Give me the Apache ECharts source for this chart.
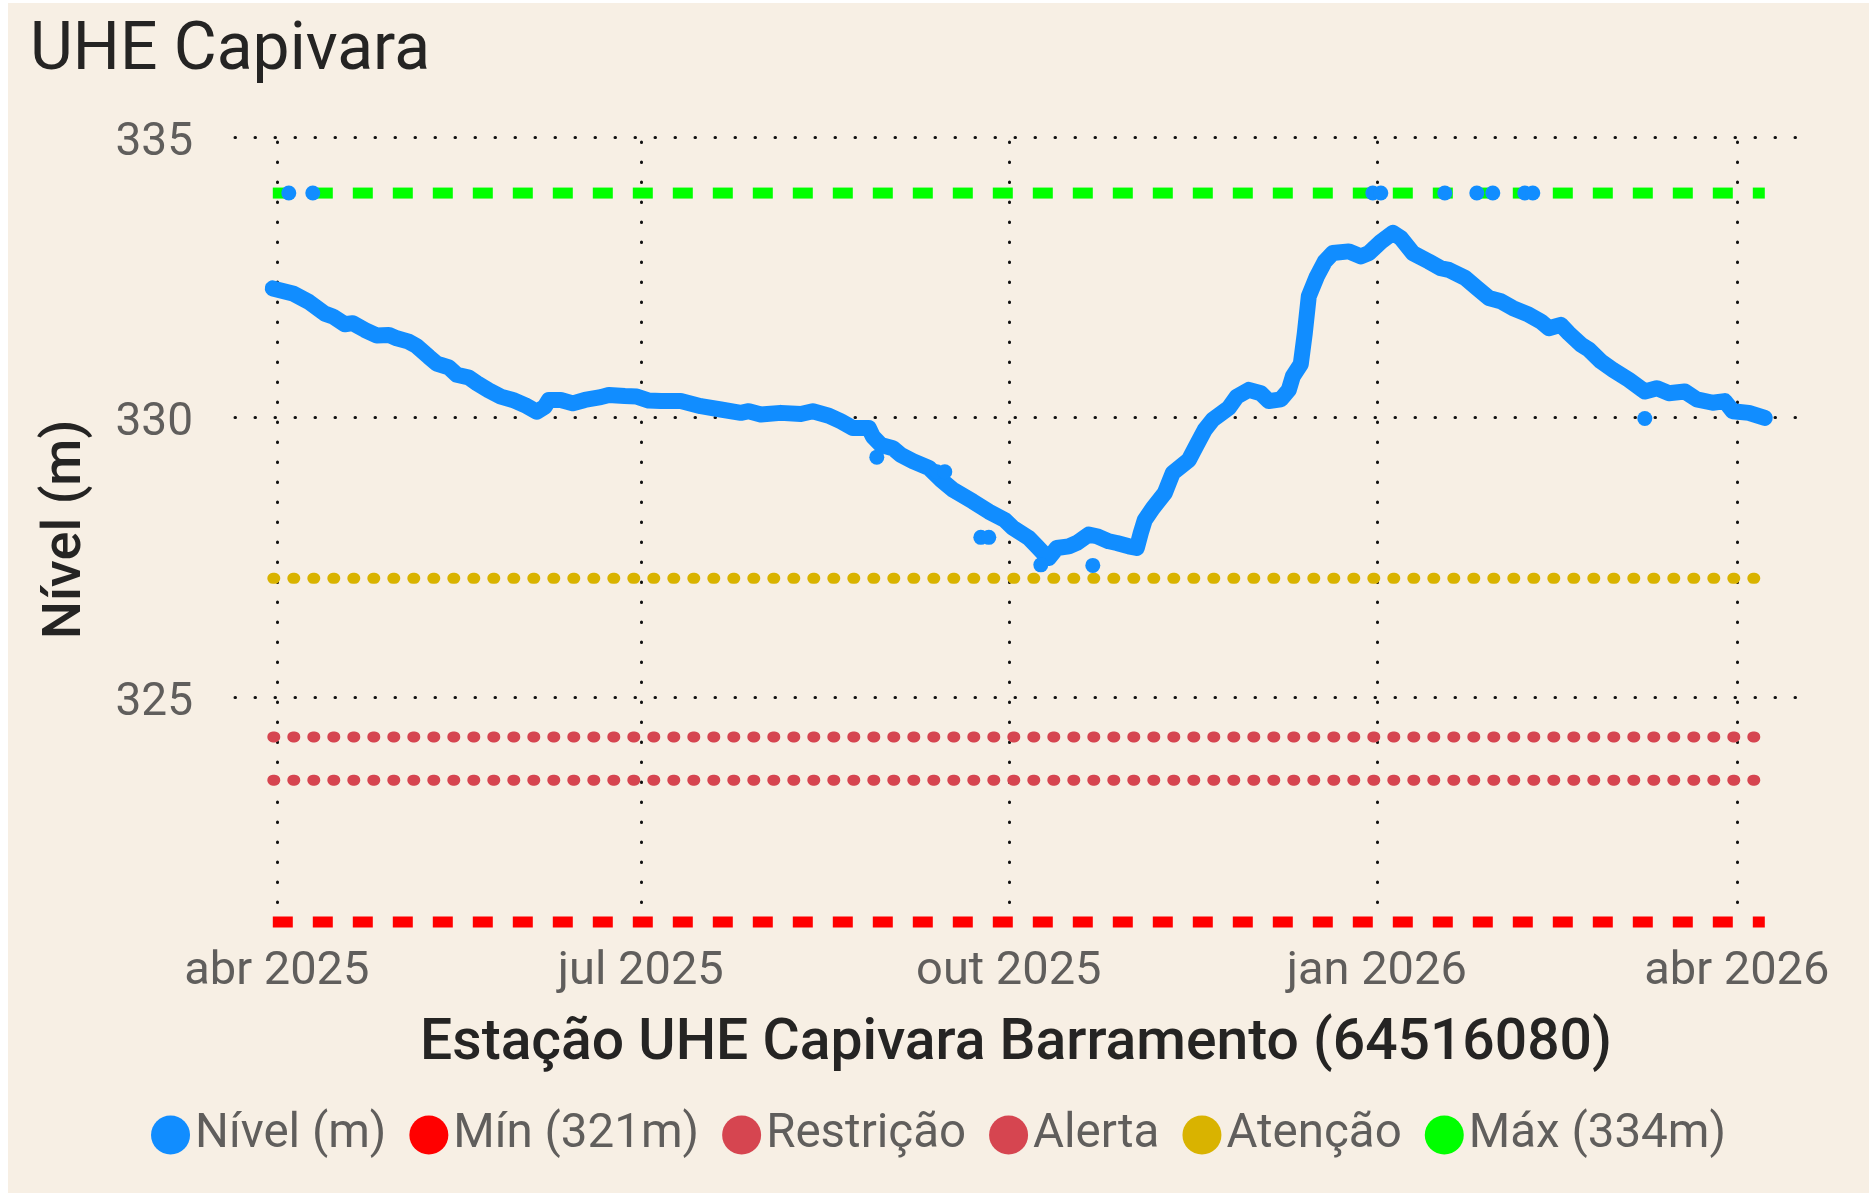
<!DOCTYPE html>
<html>
<head>
<meta charset="utf-8">
<title>UHE Capivara</title>
<script src="https://cdn.jsdelivr.net/npm/echarts@6/dist/echarts.min.js"></script>
<style>
  html, body { margin: 0; padding: 0; background: #fff; }
  #chart { position: absolute; left: 8px; top: 3px; width: 1861px; height: 1190px; }
</style>
</head>
<body>
<div id="chart"></div>
<script>
// water level readings (m)
const dates = [
  '2025-03-31', '2025-04-05', '2025-04-09', '2025-04-13', '2025-04-15', '2025-04-18', '2025-04-20',
  '2025-04-23', '2025-04-26', '2025-04-29', '2025-05-01', '2025-05-04', '2025-05-06', '2025-05-09',
  '2025-05-11', '2025-05-14', '2025-05-16', '2025-05-19', '2025-05-21', '2025-05-24', '2025-05-27',
  '2025-05-30', '2025-06-02', '2025-06-05', '2025-06-07', '2025-06-08', '2025-06-11', '2025-06-14',
  '2025-06-17', '2025-06-21', '2025-06-23', '2025-06-27', '2025-06-30', '2025-07-03', '2025-07-06',
  '2025-07-11', '2025-07-16', '2025-07-21', '2025-07-26', '2025-07-28', '2025-07-31', '2025-08-05',
  '2025-08-10', '2025-08-13', '2025-08-17', '2025-08-20', '2025-08-23', '2025-08-27', '2025-08-28',
  '2025-08-30', '2025-09-02', '2025-09-04', '2025-09-07', '2025-09-11', '2025-09-14', '2025-09-17',
  '2025-09-22', '2025-09-26', '2025-09-30', '2025-10-02', '2025-10-06', '2025-10-08', '2025-10-10',
  '2025-10-11', '2025-10-13', '2025-10-16', '2025-10-18', '2025-10-21', '2025-10-23', '2025-10-26',
  '2025-10-28', '2025-10-31', '2025-11-02', '2025-11-03', '2025-11-04', '2025-11-06', '2025-11-09',
  '2025-11-11', '2025-11-15', '2025-11-17', '2025-11-19', '2025-11-21', '2025-11-25', '2025-11-27',
  '2025-11-30', '2025-12-03', '2025-12-05', '2025-12-08', '2025-12-10', '2025-12-11', '2025-12-13',
  '2025-12-14', '2025-12-15', '2025-12-17', '2025-12-19', '2025-12-21', '2025-12-25', '2025-12-28',
  '2025-12-30', '2026-01-02', '2026-01-05', '2026-01-07', '2026-01-10', '2026-01-14', '2026-01-17',
  '2026-01-19', '2026-01-23', '2026-01-26', '2026-01-29', '2026-02-01', '2026-02-04', '2026-02-08',
  '2026-02-11', '2026-02-13', '2026-02-16', '2026-02-18', '2026-02-21', '2026-02-23', '2026-02-26',
  '2026-03-01', '2026-03-05', '2026-03-09', '2026-03-12', '2026-03-15', '2026-03-19', '2026-03-22',
  '2026-03-26', '2026-03-29', '2026-03-31', '2026-04-04', '2026-04-08'
]
const levels = [
  332.30, 332.21, 332.06, 331.85, 331.80, 331.66, 331.68,
  331.56, 331.46, 331.47, 331.41, 331.35, 331.27, 331.08,
  330.96, 330.89, 330.76, 330.71, 330.61, 330.48, 330.37,
  330.31, 330.22, 330.10, 330.19, 330.31, 330.31, 330.25,
  330.31, 330.36, 330.40, 330.38, 330.37, 330.30, 330.29,
  330.29, 330.20, 330.14, 330.08, 330.11, 330.05, 330.08,
  330.06, 330.11, 330.03, 329.93, 329.81, 329.81, 329.66,
  329.51, 329.45, 329.33, 329.22, 329.10, 328.89, 328.71,
  328.50, 328.32, 328.17, 328.03, 327.85, 327.70, 327.55,
  327.49, 327.67, 327.70, 327.76, 327.91, 327.88, 327.79,
  327.76, 327.70, 327.67, 327.94, 328.17, 328.38, 328.65,
  329.01, 329.24, 329.51, 329.78, 329.96, 330.17, 330.37,
  330.49, 330.43, 330.29, 330.32, 330.49, 330.73, 330.95,
  331.50, 332.16, 332.51, 332.78, 332.93, 332.96, 332.87,
  332.93, 333.13, 333.29, 333.20, 332.93, 332.78, 332.66,
  332.63, 332.49, 332.31, 332.13, 332.07, 331.95, 331.83,
  331.71, 331.59, 331.65, 331.50, 331.30, 331.21, 331.00,
  330.85, 330.67, 330.46, 330.52, 330.43, 330.46, 330.32,
  330.26, 330.29, 330.11, 330.08, 329.99
]

// isolated readings away from the main trace
const outlierDates = [
  '2025-04-04', '2025-04-10', '2025-08-29', '2025-09-13', '2025-09-15', '2025-09-24', '2025-09-26',
  '2025-10-09', '2025-10-22', '2025-12-31', '2026-01-02', '2026-01-18', '2026-01-26', '2026-01-30',
  '2026-02-07', '2026-02-09', '2026-03-09'
]
const outlierLevels = [
  334.0, 334.0, 329.29, 329.03, 329.03, 327.86, 327.86,
  327.37, 327.36, 334.0, 334.0, 334.0, 334.0, 334.0,
  334.0, 334.0, 329.98
]

// reference levels
const limitStart = '2025-03-31'
const limitEnd = '2026-04-08'
const minLevel = 321
const restricaoLevel = 324.3
const alertaLevel = 323.53
const atencaoLevel = 327.13
const maxLevel = 334

const tickDates = ['2025-04-01', '2025-07-01', '2025-10-01', '2026-01-01', '2026-04-01']
const tickLabels = ['abr 2025', 'jul 2025', 'out 2025', 'jan 2026', 'abr 2026']
const yTicks = [325, 330, 335]

const FONT = 'Roboto, "Noto Sans", sans-serif'
const DAY = 86400000
const t0 = Date.parse('2025-04-01')
const tickTimes = tickDates.map(d => Date.parse(d))

const chart = echarts.init(document.getElementById('chart'))

function limitSeries(name, value, color, dashed) {
  return {
    name: name,
    type: 'line',
    symbol: 'none',
    silent: true,
    clip: false,
    z: 1,
    itemStyle: { color: color },
    lineStyle: dashed
      ? { color: color, width: 11, type: [20, 20], cap: 'butt' }
      : { color: color, width: 11, type: [2, 18], cap: 'round' },
    data: [[Date.parse(limitStart), value], [Date.parse(limitEnd), value]]
  }
}

const gridDots = { color: '#111', width: 3, type: [0.5, 19.5], cap: 'round' }

chart.setOption({
  animation: false,
  backgroundColor: '#F7EFE4',
  textStyle: { fontFamily: FONT },
  title: {
    text: 'UHE Capivara',
    left: 17,
    top: 11,
    textStyle: { fontFamily: FONT, fontSize: 66, fontWeight: 'normal', color: '#252423' }
  },
  legend: {
    left: 'center',
    top: 1103,
    icon: 'circle',
    itemWidth: 39,
    itemHeight: 39,
    itemGap: 23,
    selectedMode: false,
    textStyle: { fontFamily: FONT, fontSize: 47.5, color: '#605E5C' },
    data: ['Nível (m)', 'Mín (321m)', 'Restrição', 'Alerta', 'Atenção', 'Máx (334m)']
  },
  grid: {
    left: 227,
    right: 72,
    top: 134,
    bottom: 271,
    containLabel: false,
    outerBoundsMode: 'none'
  },
  xAxis: {
    type: 'value',
    min: t0 - 10.45 * DAY,
    max: t0 + 380.05 * DAY,
    name: 'Estação UHE Capivara Barramento (64516080)',
    nameLocation: 'middle',
    nameGap: 94,
    nameTextStyle: { fontFamily: FONT, fontSize: 57, fontWeight: 500, color: '#252423' },
    axisLine: { show: false },
    axisTick: { show: false, customValues: tickTimes },
    axisLabel: {
      customValues: tickTimes,
      margin: 27,
      fontSize: 47,
      color: '#605E5C',
      formatter: v => tickLabels[tickTimes.indexOf(v)]
    },
    splitLine: { show: true, lineStyle: Object.assign({}, gridDots, { dashOffset: 15 }) }
  },
  yAxis: {
    type: 'value',
    min: minLevel,
    max: 335,
    name: 'Nível (m)',
    nameLocation: 'middle',
    nameGap: 142,
    nameTextStyle: { fontFamily: FONT, fontSize: 54, fontWeight: 500, color: '#252423' },
    axisLine: { show: false },
    axisTick: { show: false, customValues: yTicks },
    axisLabel: {
      customValues: yTicks,
      margin: 42,
      formatter: v => '{v|' + v + '}',
      rich: { v: { fontFamily: FONT, fontSize: 46, color: '#605E5C', padding: [12, 0, 0, 0] } }
    },
    splitLine: { show: true, lineStyle: gridDots }
  },
  series: [
    {
      name: 'Nível (m)',
      type: 'line',
      symbol: 'none',
      silent: true,
      z: 3,
      itemStyle: { color: '#118DFF' },
      lineStyle: { color: '#118DFF', width: 16, cap: 'round', join: 'round' },
      data: dates.map((d, i) => [Date.parse(d), levels[i]])
    },
    {
      name: 'Nível (m)',
      type: 'scatter',
      symbolSize: 15,
      silent: true,
      z: 3,
      itemStyle: { color: '#118DFF', opacity: 1 },
      data: outlierDates.map((d, i) => [Date.parse(d), outlierLevels[i]])
    },
    limitSeries('Mín (321m)', minLevel, '#FF0000', true),
    limitSeries('Restrição', restricaoLevel, '#D64550', false),
    limitSeries('Alerta', alertaLevel, '#D64550', false),
    limitSeries('Atenção', atencaoLevel, '#D9B300', false),
    limitSeries('Máx (334m)', maxLevel, '#00FF00', true)
  ]
})
</script>
</body>
</html>
